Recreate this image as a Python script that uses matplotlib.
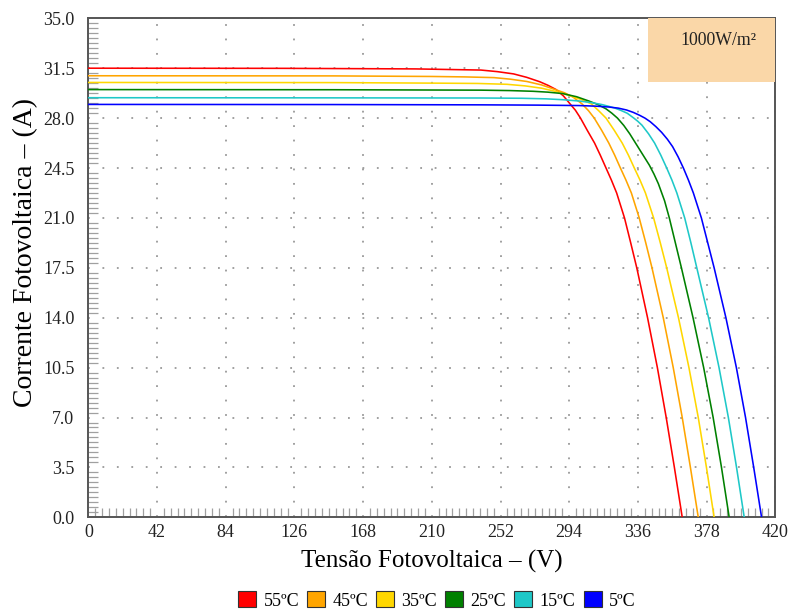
#!/usr/bin/env python3
import numpy as np
import matplotlib
matplotlib.use("Agg")
import matplotlib.pyplot as plt
from matplotlib.patches import Patch, Rectangle
from matplotlib.ticker import MultipleLocator, FormatStrFormatter

plt.rcParams["font.family"] = ["Liberation Serif", "DejaVu Serif"]

# I-V curves of the array at 1000 W/m2, one per cell temperature
labels = ["55ºC", "45ºC", "35ºC", "25ºC", "15ºC", "5ºC"]
colors = ["#ff0000", "#ffa500", "#ffd700", "#008000", "#1ec8c8", "#0000ff"]

v_55 = [0, 120, 200, 240, 250, 260, 268, 276, 281, 286, 290.5, 294.5, 297.8,
        300.9, 305, 309.5, 313, 316.5, 319.8, 323.0, 327.8, 331.6, 335.3,
        341.9, 347.9, 353.3, 358.3, 363.1]
i_55 = [31.50, 31.49, 31.45, 31.37, 31.26, 31.10, 30.86, 30.55, 30.30, 30.00,
        29.55, 29.00, 28.55, 28.00, 27.15, 26.25, 25.40, 24.50, 23.65, 22.75,
        21.0, 19.25, 17.5, 14.0, 10.5, 7.0, 3.5, 0]

v_45 = [0, 150, 210, 230, 248, 258, 268, 277, 285, 291, 296, 301.8, 305.8,
        309.3, 313.8, 318.2, 321.8, 325.3, 328.7, 332.0, 336.8, 340.8, 344.6,
        351.5, 357.6, 363.1, 368.1, 372.9]
i_45 = [30.97, 30.96, 30.92, 30.89, 30.84, 30.73, 30.57, 30.33, 30.02, 29.78,
        29.50, 29.00, 28.52, 28.00, 27.15, 26.25, 25.40, 24.50, 23.65, 22.75,
        21.0, 19.25, 17.5, 14.0, 10.5, 7.0, 3.5, 0]

v_35 = [0, 150, 215, 238, 256, 267, 277, 286.5, 295, 301.5, 307.5, 312, 316.5,
        321.5, 326.4, 330.2, 333.8, 337.3, 340.6, 345.6, 349.7, 353.6, 360.8,
        367.2, 372.9, 377.9, 382.6]
i_35 = [30.50, 30.49, 30.45, 30.43, 30.37, 30.26, 30.10, 29.85, 29.55, 29.30,
        29.00, 28.52, 28.00, 27.15, 26.25, 25.40, 24.50, 23.65, 22.75, 21.0,
        19.25, 17.5, 14.0, 10.5, 7.0, 3.5, 0]

v_25 = [0, 150, 240, 258, 272, 281, 290, 298.5, 306, 311.5, 316.5, 320, 323.5,
        327.4, 331, 337, 340, 343, 345.8, 348.5, 352.3, 355.2, 358.9, 362.6,
        369.7, 376.2, 382.0, 387.1, 391.8]
i_25 = [30.00, 29.99, 29.96, 29.93, 29.88, 29.82, 29.72, 29.50, 29.20, 28.95,
        28.65, 28.35, 28.00, 27.48, 26.90, 25.80, 25.25, 24.70, 24.08, 23.40,
        22.20, 21.0, 19.25, 17.5, 14.0, 10.5, 7.0, 3.5, 0]

v_15 = [0, 150, 240, 265, 280, 290, 300, 307.5, 314, 318, 322, 325.8, 329.5,
        333.5, 336, 338.5, 342.5, 346.2, 350, 353.6, 356.8, 359.8, 364.6,
        368.4, 372.0, 379.2, 385.6, 391.3, 396.3, 401.0]
i_15 = [29.43, 29.42, 29.41, 29.39, 29.35, 29.29, 29.20, 29.09, 28.95, 28.83,
        28.70, 28.53, 28.34, 28.00, 27.77, 27.50, 26.90, 26.25, 25.40, 24.50,
        23.65, 22.75, 21.0, 19.25, 17.5, 14.0, 10.5, 7.0, 3.5, 0]

v_5 = [0, 150, 240, 275, 300, 310, 318, 324, 329, 333.2, 337, 340.3, 343.5,
       347, 350.5, 354, 357.2, 360.6, 363.8, 366.9, 369.9, 374.8, 378.7,
       382.6, 389.8, 396.2, 401.8, 406.8, 411.6]
i_5 = [28.96, 28.95, 28.93, 28.91, 28.88, 28.84, 28.78, 28.70, 28.57, 28.40,
       28.20, 28.00, 27.75, 27.40, 27.00, 26.52, 26.00, 25.28, 24.50, 23.65,
       22.75, 21.0, 19.25, 17.5, 14.0, 10.5, 7.0, 3.5, 0]

voltages = [v_55, v_45, v_35, v_25, v_15, v_5]
currents = [i_55, i_45, i_35, i_25, i_15, i_5]

x_ticks = [0, 42, 84, 126, 168, 210, 252, 294, 336, 378, 420]
y_ticks = [0.0, 3.5, 7.0, 10.5, 14.0, 17.5, 21.0, 24.5, 28.0, 31.5, 35.0]
irradiance = "1000W/m²"

fig = plt.figure(figsize=(7.9, 6.12), dpi=100)
ax = fig.add_axes([0.1118, 0.1547, 0.8696, 0.8154])

for v, i, c in zip(voltages, currents, colors):
    ax.plot(v, i, color=c, linewidth=1.15, zorder=3)

ax.set_xlim(0, 420)
ax.set_ylim(0, 35)
ax.set_xticks(x_ticks)
ax.set_yticks(y_ticks)
ax.xaxis.set_minor_locator(MultipleLocator(4.2))
ax.yaxis.set_minor_locator(MultipleLocator(0.35))
ax.yaxis.set_major_formatter(FormatStrFormatter("%.1f"))

ax.grid(True, which="major", color="#999999", linestyle=(0, (1, 7)),
        linewidth=1.3)
ax.tick_params(which="major", direction="in", length=0, labelsize=13,
               labelcolor="#222222")
ax.tick_params(axis="y", which="major", pad=10)
ax.tick_params(axis="x", which="major", pad=5)
ax.tick_params(which="minor", direction="in", color="#a0a0a0", width=0.9)
ax.tick_params(axis="x", which="minor", length=6.5)
ax.tick_params(axis="y", which="minor", length=7)

for sp in ax.spines.values():
    sp.set_color("#555555")
    sp.set_linewidth(1.4)

# irradiance tag in the upper right corner
ax.add_patch(Rectangle((342, 30.53), 78, 4.47, facecolor="#fad7a8",
                       edgecolor="none", zorder=4))
ax.text(385, 33.45, irradiance, fontsize=12.8, ha="center", va="center",
        color="#222222", zorder=5)

ax.set_xlabel("Tensão Fotovoltaica – (V)", fontsize=18, labelpad=6)
ax.set_ylabel("Corrente Fotovoltaica – (A)", fontsize=20)
ax.yaxis.set_label_coords(-0.073, 0.53)

handles = [Patch(facecolor=c, edgecolor="#333333", linewidth=0.8)
           for c in colors]
fig.legend(handles, labels, loc="center", bbox_to_anchor=(0.553, 0.019),
           ncol=6, frameon=False, fontsize=13, handlelength=1.0,
           handleheight=1.0, handletextpad=0.4, columnspacing=0.45)

fig.savefig("out.png", dpi=100)
